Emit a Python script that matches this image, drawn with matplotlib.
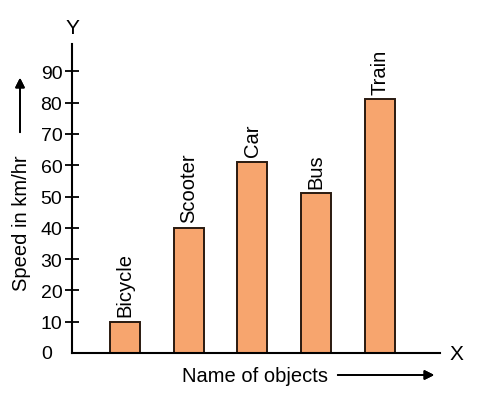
import numpy as np
import matplotlib.pyplot as plt

plt.rcParams["font.family"] = ["Liberation Sans", "DejaVu Sans"]

# --- Data ---
objects = ["Bicycle", "Scooter", "Car", "Bus", "Train"]
speeds = [10, 40, 61, 51, 81]
y_ticks = [10, 20, 30, 40, 50, 60, 70, 80, 90]

bar_color = "#F7A56E"
edge_color = "#2a1a10"

# --- Figure ---
fig = plt.figure(figsize=(4.84, 4.06), dpi=100)
ax = fig.add_axes([0.1488, 0.128, 0.760, 0.761])

x = np.arange(len(objects))
ax.bar(x, speeds, width=0.47, color=bar_color, edgecolor=edge_color, linewidth=1.4)

for xi, v, name in zip(x, speeds, objects):
    ax.text(xi, v + 1.8, name, rotation=90, ha="center", va="bottom", fontsize=14.5)

ax.set_xlim(-0.83, 4.94)
ax.set_ylim(0, 98.7)

ax.spines["top"].set_visible(False)
ax.spines["right"].set_visible(False)
ax.spines["left"].set_linewidth(1.5)
ax.spines["bottom"].set_linewidth(1.5)

ax.set_xticks([])
ax.set_yticks(y_ticks)
ax.set_yticklabels([str(t) for t in y_ticks], fontsize=14)
ax.tick_params(axis="y", direction="inout", length=10, width=1.3, pad=2)
ax.text(-0.055, 0, "0", transform=ax.get_yaxis_transform(), ha="right", va="center", fontsize=14)

# axis letters
fig.text(72 / 484, 1 - 28 / 406, "Y", ha="center", va="center", fontsize=15)
fig.text(456 / 484, 1 - 354 / 406, "X", ha="center", va="center", fontsize=15)

# axis titles with arrows
fig.text(22 / 484, 1 - 223 / 406, "Speed in km/hr", rotation=90, ha="center", va="center", fontsize=14.5)
fig.text(255 / 484, 1 - 377 / 406, "Name of objects", ha="center", va="center", fontsize=14.5)
fig.add_artist(plt.annotate("", xy=(20 / 484, 1 - 76 / 406), xytext=(20 / 484, 1 - 136 / 406),
                            xycoords="figure fraction",
                            arrowprops=dict(arrowstyle="-|>", color="black", lw=1.3, mutation_scale=14)))
fig.add_artist(plt.annotate("", xy=(437 / 484, 1 - 376 / 406), xytext=(335 / 484, 1 - 376 / 406),
                            xycoords="figure fraction",
                            arrowprops=dict(arrowstyle="-|>", color="black", lw=1.3, mutation_scale=14)))

plt.savefig("out.png", dpi=100)
